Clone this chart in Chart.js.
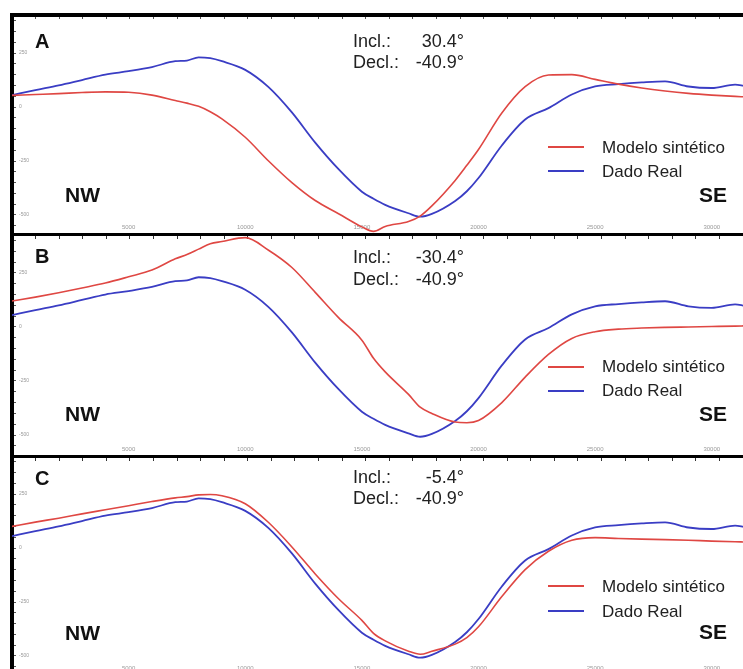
<!DOCTYPE html>
<html>
<head>
<meta charset="utf-8">
<script src="https://cdn.jsdelivr.net/npm/chart.js@4.4.1/dist/chart.umd.min.js"></script>
<style>
  html, body { margin: 0; padding: 0; background: #fff; overflow: hidden; }
  body { width: 743px; height: 669px; position: relative; }
  canvas { position: absolute; left: 0; }
  .t { position: absolute; font-family: "Liberation Sans", Arial, sans-serif; white-space: nowrap; line-height: 1; color: #222; }
  .big { font-weight: bold; color: #111; }
  .letter { font-size: 20px; left: 35px; }
  .dir { font-size: 21px; }
  .inc { font-size: 18px; left: 353px; }
  .val { font-size: 18px; left: 400px; width: 64px; text-align: right; }
  .leg { font-size: 17px; left: 602px; }
  .ln { position: absolute; left: 548px; width: 36px; height: 2px; }
  .red { background: #df4743; }
  .blue { background: #3a3dc4; }
</style>
</head>
<body>
<canvas id="chartA" width="743" height="245" style="top:0px"></canvas>
<canvas id="chartB" width="743" height="248" style="top:219px"></canvas>
<canvas id="chartC" width="743" height="245" style="top:441px"></canvas>

<!-- panel A -->
<div class="t big letter" style="top:31px">A</div>
<div class="t inc" style="top:32px">Incl.:</div>
<div class="t val" style="top:32px">30.4°</div>
<div class="t inc" style="top:53px">Decl.:</div>
<div class="t val" style="top:53px">-40.9°</div>
<div class="ln red" style="top:146px"></div>
<div class="t leg" style="top:139px">Modelo sintético</div>
<div class="ln blue" style="top:170px"></div>
<div class="t leg" style="top:163px">Dado Real</div>
<div class="t big dir" style="top:184px;left:65px">NW</div>
<div class="t big dir" style="top:184px;right:16px">SE</div>

<!-- panel B -->
<div class="t big letter" style="top:246px">B</div>
<div class="t inc" style="top:248px">Incl.:</div>
<div class="t val" style="top:248px">-30.4°</div>
<div class="t inc" style="top:270px">Decl.:</div>
<div class="t val" style="top:270px">-40.9°</div>
<div class="ln red" style="top:366px"></div>
<div class="t leg" style="top:358px">Modelo sintético</div>
<div class="ln blue" style="top:390px"></div>
<div class="t leg" style="top:382px">Dado Real</div>
<div class="t big dir" style="top:403px;left:65px">NW</div>
<div class="t big dir" style="top:403px;right:16px">SE</div>

<!-- panel C -->
<div class="t big letter" style="top:468px">C</div>
<div class="t inc" style="top:468px">Incl.:</div>
<div class="t val" style="top:468px">-5.4°</div>
<div class="t inc" style="top:489px">Decl.:</div>
<div class="t val" style="top:489px">-40.9°</div>
<div class="ln red" style="top:585px"></div>
<div class="t leg" style="top:578px">Modelo sintético</div>
<div class="ln blue" style="top:610px"></div>
<div class="t leg" style="top:603px">Dado Real</div>
<div class="t big dir" style="top:622px;left:65px">NW</div>
<div class="t big dir" style="top:621px;right:16px">SE</div>

<script>
// distance along profile (same for every curve)
const dist = [0,1000,2000,3000,4000,5000,6000,7000,7500,8000,8500,9000,10000,11000,12000,13000,14000,15000,15500,16000,17000,17500,18000,19000,19500,20000,21000,22000,23000,24000,25000,26000,27000,28000,29000,30000,31000,31400];

// observed anomaly (same in all 3 panels)
const dadoReal = [55,78,100,125,150,166,185,212,215,230,226,212,172,92,-25,-165,-288,-392,-425,-453,-492,-508,-495,-435,-390,-329,-178,-58,-5,58,95,106,114,119,95,88,104,98];

// synthetic models
const modeloA = [54,58,62,67,70,68,55,30,18,3,-22,-55,-140,-250,-350,-433,-494,-555,-576,-553,-530,-505,-458,-340,-270,-197,-28,94,148,150,128,106,88,74,63,55,49,47];
const modeloB = [120,138,158,180,203,232,263,315,335,360,385,395,413,355,275,160,43,-61,-145,-208,-312,-371,-400,-440,-443,-433,-350,-232,-127,-53,-22,-10,-5,-2,0,2,4,5];
const modeloC = [100,120,138,158,177,196,215,232,238,246,248,242,205,118,5,-120,-235,-335,-395,-430,-478,-492,-478,-445,-415,-365,-225,-100,-15,36,48,44,41,39,36,32,29,28];

// tick labels along the profile
const distLabels = [5000, 10000, 15000, 20000, 25000, 30000];

const xMax = 31340;

function pts(vals) {
  return dist.map((d, i) => ({ x: d, y: vals[i] }));
}

const tickFont = { size: 5, family: 'Liberation Sans' };

function makePanel(id, modelo, yMin, yMax, plotH, withTop) {
  // the distance labels sit ~10px above the bottom line, so give them their own axis placed there
  const labelAt = yMin + 10 * (yMax - yMin) / plotH;
  const scales = {
    x: {
      type: 'linear', position: 'bottom', min: 0, max: xMax,
      afterFit: s => { s.height = 6; s.paddingLeft = 0; s.paddingRight = 0; },
      border: { display: true, color: '#000', width: 3 },
      grid: { drawOnChartArea: false, tickLength: 5, tickColor: '#333' },
      ticks: { display: false, stepSize: 1000, autoSkip: false, includeBounds: false }
    },
    xl: {
      type: 'linear', position: { y: labelAt }, min: 0, max: xMax,
      afterFit: s => { s.paddingLeft = 0; s.paddingRight = 0; },
      afterBuildTicks: s => { s.ticks = distLabels.map(v => ({ value: v })); },
      border: { display: false },
      grid: { drawOnChartArea: false, drawTicks: false },
      ticks: {
        autoSkip: false, maxRotation: 0, minRotation: 0,
        padding: 0, color: '#999', font: { size: 6, family: 'Liberation Sans' },
        callback: v => String(v)
      }
    },
    y: {
      min: yMin, max: yMax, position: 'left',
      afterFit: s => { s.width = 2; s.paddingTop = 0; s.paddingBottom = 0; },
      border: { display: true, color: '#000', width: 4 },
      grid: { drawOnChartArea: false, tickLength: -4, tickColor: '#555' },
      ticks: {
        stepSize: 50, autoSkip: false, includeBounds: false, mirror: true,
        padding: 7, color: '#999', font: tickFont,
        callback: v => (v % 250 === 0) ? String(v) : ''
      }
    }
  };
  if (withTop) {
    scales.x2 = {
      type: 'linear', position: 'top', min: 0, max: xMax,
      afterFit: s => { s.height = 2; s.paddingLeft = 0; s.paddingRight = 0; },
      border: { display: true, color: '#000', width: 4 },
      grid: { drawOnChartArea: false, tickLength: -4, tickColor: '#555' },
      ticks: { display: false, stepSize: 1000, autoSkip: false, includeBounds: false }
    };
  }
  new Chart(id, {
    type: 'line',
    data: {
      datasets: [{
        label: 'Modelo sintético',
        data: pts(modelo),
        borderColor: '#df4743',
        borderWidth: 1.6,
        pointRadius: 0,
        cubicInterpolationMode: 'monotone'
      }, {
        label: 'Dado Real',
        data: pts(dadoReal),
        borderColor: '#3a3dc4',
        borderWidth: 1.8,
        pointRadius: 0,
        cubicInterpolationMode: 'monotone'
      }]
    },
    options: {
      responsive: false,
      animation: false,
      devicePixelRatio: 1,
      layout: { padding: { left: 10, top: withTop ? 13 : 15, right: 0, bottom: 5 } },
      plugins: { legend: { display: false }, tooltip: { enabled: false } },
      scales: scales
    }
  });
}

makePanel('chartA', modeloA, -588, 426, 219, true);
makePanel('chartB', modeloB, -597, 430, 222, false);
makePanel('chartC', modeloC, -588, 426, 219, false);
</script>
</body>
</html>
